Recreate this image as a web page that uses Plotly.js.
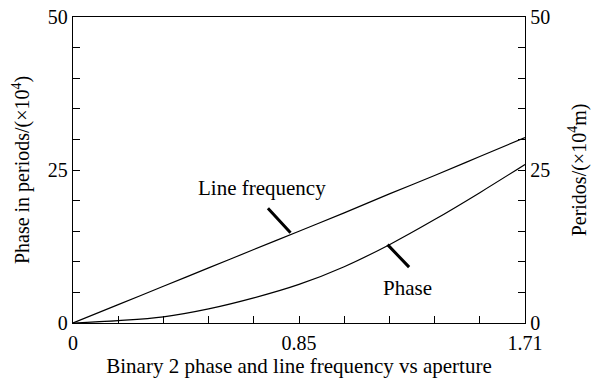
<!DOCTYPE html>
<html>
<head>
<meta charset="utf-8">
<script src="https://cdn.plot.ly/plotly-3.0.1.min.js"></script>
<style>html,body{margin:0;padding:0;background:#fff;}#chart{width:593px;height:386px;}</style>
</head>
<body>
<div id="chart"></div>
<script>
// Aperture positions (x)
var aperture = [0, 0.171, 0.342, 0.513, 0.684, 0.855, 1.026, 1.197, 1.368, 1.539, 1.71];
// Line frequency (periods, x10^4 m)
var lineFrequency = [0, 3.0, 6.0, 9.0, 12.0, 15.0, 18.0, 21.1, 24.1, 27.2, 30.3];
// Phase in periods (x10^4)
var phase = [0, 0.38, 1.0, 2.3, 4.1, 6.3, 9.2, 12.8, 16.9, 21.3, 25.9];
// Tick labels
var xTickVals = [0, 0.855, 1.71];
var xTickText = ['0', '0.85', '1.71'];
var yTickVals = [0, 25, 50];
var yTickText = ['0', '25', '50'];

var font = {family: 'Liberation Serif, Times New Roman, serif', color: '#000'};
function f(size) { return Object.assign({}, font, {size: size}); }

var traces = [
  {x: aperture, y: lineFrequency, type: 'scatter', mode: 'lines', line: {color: '#000', width: 1.2, shape: 'spline'}, yaxis: 'y', hoverinfo: 'skip'},
  {x: aperture, y: phase, type: 'scatter', mode: 'lines', line: {color: '#000', width: 1.2, shape: 'spline'}, yaxis: 'y2', hoverinfo: 'skip'}
];

var layout = {
  width: 593, height: 386,
  margin: {l: 73, r: 68, t: 17, b: 63},
  paper_bgcolor: '#fff', plot_bgcolor: '#fff',
  showlegend: false,
  font: f(20),
  xaxis: {
    range: [0, 1.71], tickmode: 'array', tickvals: xTickVals, ticktext: xTickText,
    ticks: 'inside', ticklen: 7, tickwidth: 1, tickcolor: '#000',
    minor: {dtick: 0.171, tick0: 0, ticks: 'inside', ticklen: 7, tickwidth: 1, tickcolor: '#000'},
    showline: true, linecolor: '#000', linewidth: 1.2, mirror: true,
    showgrid: false, zeroline: false, tickfont: f(20), ticklabelstandoff: 2,
    title: {text: 'Binary 2 phase and line frequency vs aperture', font: f(21), standoff: 5}
  },
  yaxis: {
    range: [0, 50], tickmode: 'array', tickvals: yTickVals, ticktext: yTickText,
    ticks: 'inside', ticklen: 7, tickwidth: 1, tickcolor: '#000',
    minor: {dtick: 5, tick0: 0, ticks: 'inside', ticklen: 7, tickwidth: 1, tickcolor: '#000'},
    showline: true, linecolor: '#000', linewidth: 1.2,
    showgrid: false, zeroline: false, tickfont: f(20),
    title: {text: 'Phase in periods/(×10<sup>4</sup>)', font: f(20), standoff: 12}
  },
  yaxis2: {
    range: [0, 50], overlaying: 'y', side: 'right', tickmode: 'array', tickvals: yTickVals, ticktext: yTickText,
    ticks: 'inside', ticklen: 7, tickwidth: 1, tickcolor: '#000',
    minor: {dtick: 5, tick0: 0, ticks: 'inside', ticklen: 7, tickwidth: 1, tickcolor: '#000'},
    showline: true, linecolor: '#000', linewidth: 1.2,
    showgrid: false, zeroline: false, tickfont: f(20),
    title: {text: 'Peridos/(×10<sup>4</sup>m)', font: f(20), standoff: 22}
  },
  annotations: [
    {x: 0.823, y: 14.75, xref: 'x', yref: 'y', text: '', showarrow: true, arrowhead: 0, arrowwidth: 3, arrowcolor: '#000', ax: -24, ay: -26},
    {x: 1.19, y: 12.8, xref: 'x', yref: 'y', text: '', showarrow: true, arrowhead: 0, arrowwidth: 3, arrowcolor: '#000', ax: 23, ay: 24},
    {x: 0.715, y: 22.1, xref: 'x', yref: 'y', text: 'Line frequency', showarrow: false, font: f(21)},
    {x: 1.267, y: 5.7, xref: 'x', yref: 'y', text: 'Phase', showarrow: false, font: f(21)}
  ]
};

Plotly.newPlot('chart', traces, layout, {staticPlot: true, displayModeBar: false});
</script>
</body>
</html>
